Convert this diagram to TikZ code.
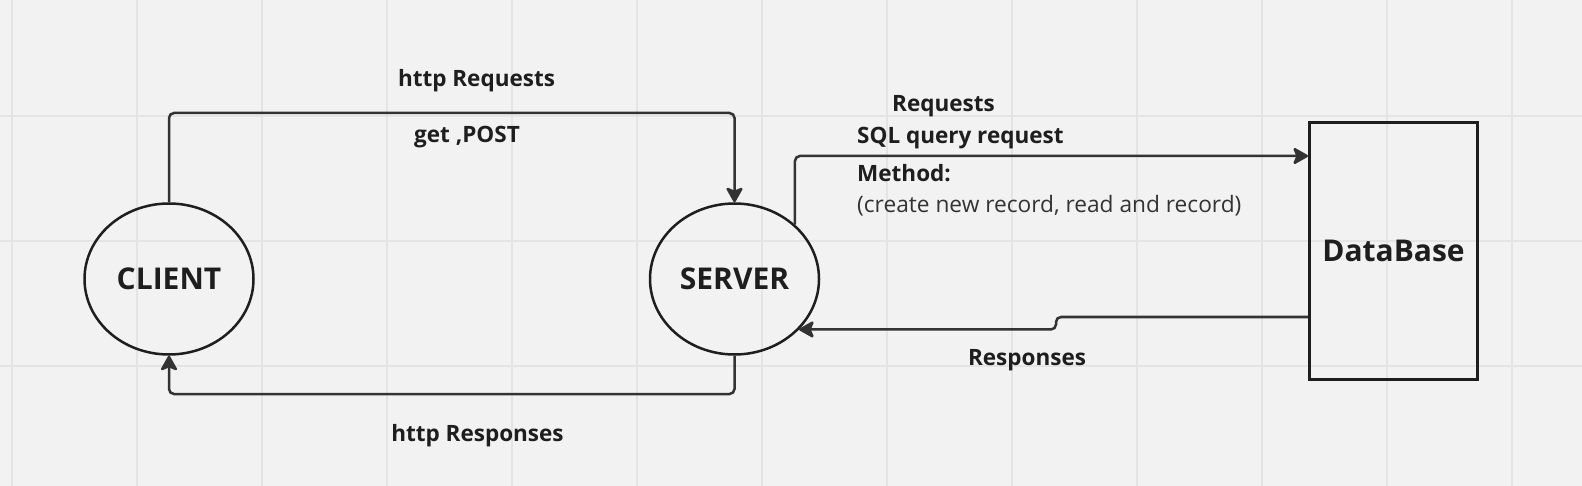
\documentclass[tikz,border=0pt]{standalone}
\usepackage{fontspec}
\setmainfont{Open Sans}
\usepackage{xcolor}
\usetikzlibrary{shapes.geometric,arrows.meta}
\definecolor{bgcol}{HTML}{F2F2F2}
\definecolor{gridcol}{HTML}{E4E4E4}
\definecolor{linecol}{HTML}{333333}
\definecolor{inkcol}{HTML}{1E1E1E}
\tikzstyle{ends} = [ellipse, minimum width=169pt, minimum height=151pt, inner sep=0pt,
draw=inkcol, line width=2.5pt, text=inkcol, font=\fontsize{30}{34}\selectfont\bfseries]
\tikzstyle{store} = [rectangle, minimum width=168pt, minimum height=257pt, inner sep=0pt,
draw=inkcol, line width=3pt, text=inkcol, font=\fontsize{30}{34}\selectfont\bfseries]
\tikzstyle{tag} = [inner sep=0pt, text=inkcol, font=\fontsize{22.5}{26}\selectfont\bfseries]
\tikzstyle{note} = [inner sep=0pt, text=linecol, font=\fontsize{22.7}{26}\selectfont]
\tikzstyle{arrow} = [line width=2.5pt, draw=linecol, rounded corners=5pt,
-{Stealth[length=17pt,width=19pt,inset=4pt,round]}]

\begin{document}
\begin{tikzpicture}[x=1pt,y=-1pt]
        \fill[bgcol] (0,0) rectangle (1582,486);
        \useasboundingbox (0,0) rectangle (1582,486);
        \foreach \gx in {12,137,...,1512}
            \draw[gridcol, line width=2pt] (\gx,0) -- (\gx,486);
        \foreach \gy in {116,241,366}
            \draw[gridcol, line width=2pt] (0,\gy) -- (1582,\gy);

        \draw (169,279) node[ends] (client) {CLIENT};
        \draw (734.5,279) node[ends] (server) {SERVER};
        \draw (1393.5,251) node[store] (db) {DataBase};

        \draw (476.5,87) node[tag, anchor=base] (httpreq) {http Requests};
        \draw (467,143) node[tag, anchor=base] (getpost) {get ,POST};
        \draw (477.5,441) node[tag, anchor=base] (httpres) {http Responses};
        \draw (943.5,112) node[tag, anchor=base] (dbreq) {Requests};
        \draw (857,144) node[tag, anchor=base west] (sqlq) {SQL query request};
        \draw (857,182) node[tag, anchor=base west] (method) {Method:};
        \draw (857,213) node[note, anchor=base west] (crud) {(create new record, read and record)};
        \draw (1027,365) node[tag, anchor=base] (dbres) {Responses};

        % Arrows
        \coordinate (reqtop) at (450,113);
        \coordinate (resbot) at (450,394);
        \coordinate (sqlrow) at (0,156);
        \coordinate (resjog) at (1056,317);

        \draw[arrow] (client.north) |- (reqtop) -| (server.north);
        \draw[arrow] (server.south) |- (resbot) -| (client.south);
        \draw[arrow] (server.42) |- (sqlrow -| db.west);
        \draw[arrow] (resjog -| db.west) -- (resjog) |- (server.-38.5);
    \end{tikzpicture}
\end{document}
